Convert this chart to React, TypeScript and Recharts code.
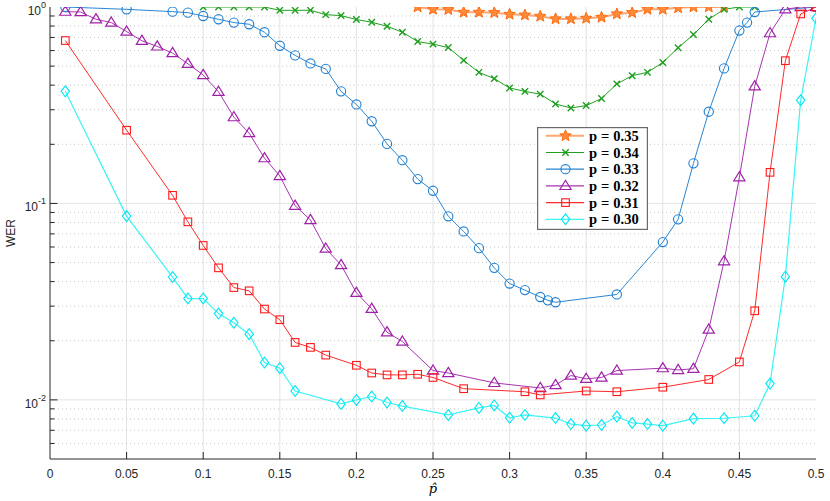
import React from 'react';
import { LineChart, Line, XAxis, YAxis, ReferenceLine, Legend } from 'recharts';

// ---------- data ----------
const p35X = [0.24, 0.25, 0.26, 0.27, 0.28, 0.29, 0.3, 0.31, 0.32, 0.33, 0.34, 0.35, 0.36, 0.37, 0.38, 0.39, 0.4, 0.41, 0.42, 0.43, 0.44];
const p35Y = [1.0, 0.973, 0.97, 0.94, 0.94, 0.936, 0.918, 0.91, 0.897, 0.87, 0.87, 0.876, 0.886, 0.922, 0.936, 0.973, 0.973, 0.99, 1.0, 1.0, 1.0];

const p34X = [0.1, 0.11, 0.12, 0.13, 0.14, 0.15, 0.16, 0.17, 0.18, 0.19, 0.2, 0.21, 0.22, 0.23, 0.24, 0.25, 0.26, 0.27, 0.28, 0.29, 0.3, 0.31, 0.32, 0.33, 0.34, 0.35, 0.36, 0.37, 0.38, 0.39, 0.4, 0.41, 0.42, 0.43, 0.44, 0.45, 0.46];
const p34Y = [1.0, 1.0, 1.0, 1.0, 1.0, 0.962, 0.962, 0.962, 0.914, 0.904, 0.863, 0.836, 0.798, 0.744, 0.667, 0.647, 0.622, 0.535, 0.465, 0.432, 0.387, 0.372, 0.36, 0.321, 0.306, 0.315, 0.342, 0.406, 0.447, 0.465, 0.522, 0.62, 0.724, 0.866, 0.973, 1.0, 1.0];

const p33X = [0.01, 0.05, 0.08, 0.09, 0.1, 0.11, 0.12, 0.13, 0.14, 0.15, 0.16, 0.17, 0.18, 0.19, 0.2, 0.21, 0.22, 0.23, 0.24, 0.25, 0.26, 0.27, 0.28, 0.29, 0.3, 0.31, 0.32, 0.325, 0.33, 0.37, 0.4, 0.41, 0.42, 0.43, 0.44, 0.45, 0.455, 0.46, 0.5];
const p33Y = [1.0, 0.973, 0.947, 0.936, 0.9, 0.866, 0.833, 0.817, 0.744, 0.635, 0.567, 0.516, 0.484, 0.372, 0.319, 0.262, 0.201, 0.166, 0.133, 0.116, 0.086, 0.072, 0.0592, 0.047, 0.0391, 0.0362, 0.0334, 0.0321, 0.0314, 0.0344, 0.0636, 0.083, 0.16, 0.293, 0.487, 0.759, 0.833, 0.943, 1.0];

const p32X = [0.01, 0.02, 0.03, 0.04, 0.05, 0.06, 0.07, 0.08, 0.09, 0.1, 0.11, 0.12, 0.13, 0.14, 0.15, 0.16, 0.17, 0.18, 0.19, 0.2, 0.21, 0.22, 0.23, 0.25, 0.26, 0.29, 0.32, 0.33, 0.34, 0.35, 0.36, 0.37, 0.4, 0.41, 0.42, 0.43, 0.44, 0.45, 0.46, 0.47, 0.48, 0.49, 0.5];
const p32Y = [0.947, 0.943, 0.866, 0.833, 0.75, 0.673, 0.63, 0.583, 0.514, 0.451, 0.37, 0.275, 0.228, 0.17, 0.138, 0.0974, 0.0824, 0.0589, 0.0486, 0.0351, 0.0291, 0.0221, 0.0198, 0.0141, 0.0137, 0.0122, 0.0115, 0.0119, 0.0133, 0.0128, 0.013, 0.0141, 0.0145, 0.0142, 0.0144, 0.0228, 0.0508, 0.136, 0.395, 0.736, 0.973, 1.0, 1.0];

const p31X = [0.01, 0.05, 0.08, 0.09, 0.1, 0.11, 0.12, 0.13, 0.14, 0.15, 0.16, 0.17, 0.18, 0.2, 0.21, 0.22, 0.23, 0.24, 0.25, 0.27, 0.31, 0.32, 0.35, 0.37, 0.4, 0.43, 0.45, 0.46, 0.47, 0.48, 0.49, 0.5];
const p31Y = [0.675, 0.236, 0.11, 0.0806, 0.0611, 0.047, 0.0373, 0.0359, 0.029, 0.0256, 0.0196, 0.0185, 0.0169, 0.015, 0.0137, 0.0134, 0.0134, 0.0135, 0.013, 0.0114, 0.011, 0.0106, 0.0111, 0.011, 0.0116, 0.0127, 0.0156, 0.0284, 0.144, 0.533, 0.922, 1.0];

const p30X = [0.01, 0.05, 0.08, 0.09, 0.1, 0.11, 0.12, 0.13, 0.14, 0.15, 0.16, 0.19, 0.2, 0.21, 0.22, 0.23, 0.26, 0.28, 0.29, 0.3, 0.31, 0.33, 0.34, 0.35, 0.36, 0.37, 0.38, 0.39, 0.4, 0.42, 0.44, 0.46, 0.47, 0.48, 0.49, 0.5];
const p30Y = [0.372, 0.0862, 0.0422, 0.0328, 0.0328, 0.0275, 0.0247, 0.0216, 0.0155, 0.0145, 0.0111, 0.00954, 0.00999, 0.0104, 0.0097, 0.0093, 0.00838, 0.0091, 0.00937, 0.00811, 0.00838, 0.00808, 0.00753, 0.00739, 0.00745, 0.00822, 0.00763, 0.00753, 0.00739, 0.00803, 0.00806, 0.0083, 0.0121, 0.0424, 0.335, 0.876];

const seriesNames = ['p = 0.35', 'p = 0.34', 'p = 0.33', 'p = 0.32', 'p = 0.31', 'p = 0.30'];

const xTicks = [0, 0.05, 0.1, 0.15, 0.2, 0.25, 0.3, 0.35, 0.4, 0.45, 0.5];
const yMajorTicks = [0.01, 0.1, 1];
const yMinorTicks = [0.006, 0.007, 0.008, 0.009, 0.02, 0.03, 0.04, 0.05, 0.06, 0.07, 0.08, 0.09, 0.2, 0.3, 0.4, 0.5, 0.6, 0.7, 0.8, 0.9];

// ---------- styling ----------
const W = 830;
const H = 501;
const AX = '#262626';
const TICK_FONT = '"Liberation Sans", Arial, Helvetica, sans-serif';

const zip = (xs: number[], ys: number[]) => xs.map((x, i) => ({ x, y: ys[i] }));

type Kind = 'star' | 'x' | 'circle' | 'triangle' | 'square' | 'diamond';
const series: { name: string; data: { x: number; y: number }[]; line: string; width: number; mk: string; kind: Kind }[] = [
  { name: seriesNames[0], data: zip(p35X, p35Y), line: '#FFA772', width: 2, mk: '#FF6A10', kind: 'star' },
  { name: seriesNames[1], data: zip(p34X, p34Y), line: '#22A022', width: 1, mk: '#1E9E1E', kind: 'x' },
  { name: seriesNames[2], data: zip(p33X, p33Y), line: '#2A86D2', width: 1, mk: '#1F7FD0', kind: 'circle' },
  { name: seriesNames[3], data: zip(p32X, p32Y), line: '#A834B0', width: 1, mk: '#A020A8', kind: 'triangle' },
  { name: seriesNames[4], data: zip(p31X, p31Y), line: '#FF2A2A', width: 1, mk: '#FF1A1A', kind: 'square' },
  { name: seriesNames[5], data: zip(p30X, p30Y), line: '#3CF4F4', width: 1.2, mk: '#00E6F2', kind: 'diamond' },
];

function starPath(cx: number, cy: number, R: number, r: number) {
  let d = '';
  for (let i = 0; i < 10; i++) {
    const rad = i % 2 === 0 ? R : r;
    const a = -Math.PI / 2 + (i * Math.PI) / 5;
    d += (i === 0 ? 'M' : 'L') + (cx + rad * Math.cos(a)).toFixed(2) + ',' + (cy + rad * Math.sin(a)).toFixed(2);
  }
  return d + 'Z';
}

function MarkerShape({ kind, cx, cy, color }: { kind: Kind; cx: number; cy: number; color: string }) {
  if (cx == null || cy == null || isNaN(cx) || isNaN(cy)) return null;
  switch (kind) {
    case 'star':
      return <path d={starPath(cx, cy, 6, 2.6)} fill="#FF8A3A" stroke={color} strokeWidth={1} />;
    case 'x':
      return (
        <g stroke={color} strokeWidth={1.4}>
          <line x1={cx - 3.2} y1={cy - 3.2} x2={cx + 3.2} y2={cy + 3.2} />
          <line x1={cx - 3.2} y1={cy + 3.2} x2={cx + 3.2} y2={cy - 3.2} />
        </g>
      );
    case 'circle':
      return <circle cx={cx} cy={cy} r={4.6} fill="none" stroke={color} strokeWidth={1.1} />;
    case 'triangle':
      return <path d={`M${cx},${cy - 5.6}L${cx + 5.6},${cy + 3.6}L${cx - 5.6},${cy + 3.6}Z`} fill="none" stroke={color} strokeWidth={1.2} />;
    case 'square':
      return <rect x={cx - 3.8} y={cy - 3.8} width={7.6} height={7.6} fill="none" stroke={color} strokeWidth={1.1} />;
    case 'diamond':
      return <path d={`M${cx},${cy - 5.4}L${cx + 4.2},${cy}L${cx},${cy + 5.4}L${cx - 4.2},${cy}Z`} fill="none" stroke={color} strokeWidth={1.1} />;
  }
  return null;
}

const isMajorY = (v: number) => yMajorTicks.some((m) => Math.abs(m - v) < 1e-9);

const XTickBottom = (props: any) => {
  const { x, y, payload } = props;
  const v = payload.value as number;
  const inner = v > 0 && v < 0.5;
  return (
    <g>
      {inner && <line x1={x} y1={y} x2={x} y2={y - 7} stroke={AX} strokeWidth={1} />}
      <text x={x} y={y + 19} textAnchor="middle" fontFamily={TICK_FONT} fontSize={12} fill={AX}>
        {String(v)}
      </text>
    </g>
  );
};

const XTickTop = (props: any) => {
  const { x, y, payload } = props;
  const v = payload.value as number;
  if (!(v > 0 && v < 0.5)) return <g />;
  return <line x1={x} y1={y} x2={x} y2={y + 7} stroke={AX} strokeWidth={1} />;
};

const YTickLeft = (props: any) => {
  const { x, y, payload } = props;
  const v = payload.value as number;
  const major = isMajorY(v);
  const len = major ? 7.5 : 4.5;
  const exp = Math.round(Math.log10(v));
  return (
    <g>
      {v < 1 && <line x1={x} y1={y} x2={x + len} y2={y} stroke={AX} strokeWidth={1} />}
      {major && (
        <text x={x - 4} y={y + 8} textAnchor="end" fontFamily={TICK_FONT} fontSize={12} fill={AX}>
          <tspan>10</tspan>
          <tspan dy={-7} fontSize={9}>{String(exp)}</tspan>
        </text>
      )}
    </g>
  );
};

const YTickRight = (props: any) => {
  const { x, y, payload } = props;
  const v = payload.value as number;
  const major = isMajorY(v);
  const len = major ? 7.5 : 4.5;
  if (v >= 1) return <g />;
  return <line x1={x} y1={y} x2={x - len} y2={y} stroke={AX} strokeWidth={1} />;
};

const LegendBox = () => {
  const rowH = 16.7;
  return (
    <svg width={111} height={103} style={{ display: 'block' }}>
      <rect x={0.6} y={0.6} width={109.8} height={101.8} fill="#ffffff" stroke="#6a6a6a" strokeWidth={1.2} />
      {series.map((s, i) => {
        const cy = 8.8 + i * rowH;
        const parts = s.name.split(' = ');
        return (
          <g key={s.name}>
            <line x1={9} y1={cy} x2={47} y2={cy} stroke={s.line} strokeWidth={s.width === 1 ? 1.2 : s.width} />
            <MarkerShape kind={s.kind} cx={28.5} cy={cy} color={s.mk} />
            <text x={52} y={cy + 5} fontFamily='"Liberation Serif", "Times New Roman", serif' fontWeight="bold" fontSize={14.5} fill="#000">
              <tspan>{parts[0]}</tspan>
              <tspan dx={4}>=</tspan>
              <tspan dx={4}>{parts[1]}</tspan>
            </text>
          </g>
        );
      })}
    </svg>
  );
};

export default function App() {
  return (
    <div style={{ position: 'absolute', left: 0, top: 0, width: W, height: H, background: '#fff' }}>
      <LineChart width={W} height={H} margin={{ top: 7, right: 14, bottom: 0, left: 0 }}>
        <XAxis
          dataKey="x"
          type="number"
          domain={[0, 0.5]}
          ticks={xTicks}
          interval={0}
          allowDataOverflow
          height={42}
          tickSize={0}
          tickMargin={0}
          tickLine={false}
          tick={XTickBottom}
          axisLine={{ stroke: AX, strokeWidth: 1 }}
          label={(p: any) => {
            const vb = p.viewBox || {};
            const cx = (vb.x ?? 50) + (vb.width ?? 766) / 2;
            return (
              <text x={cx} y={493} textAnchor="middle" fontFamily='"DejaVu Serif", serif' fontStyle="italic" fontSize={13} fill="#000">
                p̂
              </text>
            );
          }}
        />
        <XAxis
          xAxisId="top"
          orientation="top"
          type="number"
          domain={[0, 0.5]}
          ticks={xTicks}
          interval={0}
          height={0}
          tickSize={0}
          tickMargin={0}
          tickLine={false}
          tick={XTickTop}
          axisLine={{ stroke: AX, strokeWidth: 1 }}
        />
        <YAxis
          type="number"
          scale="log"
          domain={[0.005, 1]}
          allowDataOverflow
          ticks={[...yMajorTicks, ...yMinorTicks]}
          interval={0}
          width={50}
          tickSize={0}
          tickMargin={0}
          tickLine={false}
          tick={YTickLeft}
          axisLine={{ stroke: AX, strokeWidth: 1 }}
          label={(p: any) => {
            const vb = p.viewBox || {};
            const cy = (vb.y ?? 7) + (vb.height ?? 452) / 2;
            return (
              <text x={15} y={cy} textAnchor="middle" transform={`rotate(-90 15 ${cy})`} fontFamily={TICK_FONT} fontSize={12} fill={AX}>
                WER
              </text>
            );
          }}
        />
        <YAxis
          yAxisId="right"
          orientation="right"
          type="number"
          scale="log"
          domain={[0.005, 1]}
          allowDataOverflow
          ticks={[...yMajorTicks, ...yMinorTicks]}
          interval={0}
          width={0}
          tickSize={0}
          tickMargin={0}
          tickLine={false}
          tick={YTickRight}
          axisLine={{ stroke: AX, strokeWidth: 1 }}
        />
        {xTicks
          .filter((v) => v > 0 && v < 0.5)
          .map((v) => (
            <ReferenceLine key={'gx' + v} x={v} stroke="#e3e3e3" strokeWidth={1} />
          ))}
        {yMajorTicks
          .filter((v) => v < 1)
          .map((v) => (
            <ReferenceLine key={'gy' + v} y={v} stroke="#e3e3e3" strokeWidth={1} />
          ))}
        {yMinorTicks.map((v) => (
          <ReferenceLine key={'gm' + v} y={v} stroke="#c8c8c8" strokeWidth={1} strokeDasharray="1 3" />
        ))}
        {series.map((s) => (
          <Line
            key={s.name}
            data={s.data}
            dataKey="y"
            name={s.name}
            type="linear"
            stroke={s.line}
            strokeWidth={s.width}
            isAnimationActive={false}
            dot={(dp: any) => <MarkerShape key={s.name + '-' + dp.index} kind={s.kind} cx={dp.cx} cy={dp.cy} color={s.mk} />}
            activeDot={false}
          />
        ))}
        <Legend
          layout="vertical"
          align="center"
          verticalAlign="middle"
          wrapperStyle={{ position: 'absolute', left: 537, top: 127, width: 111, height: 103 }}
          content={() => <LegendBox />}
        />
      </LineChart>
    </div>
  );
}
